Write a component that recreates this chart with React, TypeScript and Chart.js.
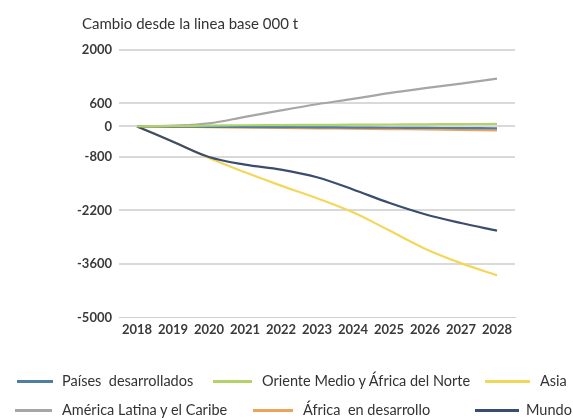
import React, { useEffect, useRef } from "react";
import { Chart, registerables } from "chart.js";

Chart.register(...registerables);

const TITLE = "Cambio desde la linea base 000 t";
const YEARS = ["2018", "2019", "2020", "2021", "2022", "2023", "2024", "2025", "2026", "2027", "2028"];
const Y_TICKS = [2000, 600, 0, -800, -2200, -3600, -5000];

const SERIES_NAMES = [
  "Países  desarrollados",
  "Oriente Medio y África del Norte",
  "Asia",
  "América Latina y el Caribe",
  "África  en desarrollo",
  "Mundo",
];
const PAISES = [0, -5, -10, -15, -20, -25, -30, -35, -40, -45, -50];
const ORIENTE = [0, 10, 20, 30, 35, 40, 45, 50, 55, 60, 65];
const ASIA = [0, -400, -830, -1200, -1550, -1880, -2250, -2720, -3200, -3580, -3900];
const AMERICA = [0, 20, 80, 250, 420, 580, 720, 870, 1000, 1120, 1250];
const AFRICA = [0, -10, -20, -30, -40, -50, -60, -70, -80, -90, -105];
const MUNDO = [0, -400, -800, -1000, -1130, -1330, -1650, -2000, -2300, -2530, -2730];

const SERIES_VALUES = [PAISES, ORIENTE, ASIA, AMERICA, AFRICA, MUNDO];
const COLORS = ["#4f7fa0", "#b4d26a", "#f3d75b", "#a6a6a6", "#eea25a", "#3a4d6e"];
const DRAW_ORDER = [3, 0, 2, 4, 5, 1];

// legend layout (styles only): [lineLeft, lineWidth, textLeft, top]
const LEGEND_LAYOUT = [
  [17, 36, 62, 381],
  [213, 39, 262, 381],
  [485, 45, 540, 381],
  [15, 37, 62, 410],
  [253, 40, 303, 410],
  [475, 44, 526, 410],
];

const FONT = "Lato, 'Open Sans', sans-serif";

export default function App() {
  const ref = useRef<HTMLCanvasElement | null>(null);

  useEffect(() => {
    if (!ref.current) return;
    const chart = new Chart(ref.current, {
      type: "line",
      data: {
        labels: YEARS,
        datasets: SERIES_NAMES.map((name, i) => ({
          label: name,
          data: SERIES_VALUES[i],
          borderColor: COLORS[i],
          backgroundColor: COLORS[i],
          borderWidth: 2.2,
          pointRadius: 0,
          tension: 0.35,
          fill: false,
          order: DRAW_ORDER[i],
        })),
      },
      options: {
        animation: false,
        responsive: false,
        layout: { padding: { left: 70, right: 58, top: 50, bottom: 76 } },
        plugins: {
          legend: { display: false },
          tooltip: { enabled: false },
          title: { display: false },
        },
        scales: {
          x: {
            type: "category",
            offset: true,
            grid: { display: false, drawTicks: false },
            border: { display: true, color: "#d0d0d0", width: 1, dash: [2, 2] },
            ticks: {
              color: "#3a3a3a",
              font: { family: FONT, size: 13, weight: "bold" },
              padding: 5,
              maxRotation: 0,
              autoSkip: false,
            },
          },
          y: {
            min: -5000,
            max: 2000,
            afterBuildTicks: (scale: any) => {
              scale.ticks = Y_TICKS.map((v) => ({ value: v }));
            },
            afterFit: (scale: any) => {
              scale.width = 49;
            },
            grid: {
              drawTicks: false,
              color: (ctx: any) => (ctx.tick && ctx.tick.value === -5000 ? "rgba(0,0,0,0)" : "#d9d9d9"),
              lineWidth: 2,
            },
            border: { display: false },
            ticks: {
              color: "#3a3a3a",
              font: { family: FONT, size: 13, weight: "bold" },
              padding: 7,
              callback: (v: any) => String(v),
            },
          },
        },
      },
    });
    return () => chart.destroy();
  }, []);

  return (
    <div style={{ position: "absolute", left: 0, top: 0, width: 573, height: 419, background: "#ffffff", overflow: "hidden" }}>
      <canvas ref={ref} width={573} height={419} style={{ display: "block" }} />
      <div
        style={{
          position: "absolute",
          left: 82,
          top: 13,
          height: 20,
          lineHeight: "20px",
          fontFamily: FONT,
          fontSize: 15,
          color: "#333333",
          whiteSpace: "pre",
        }}
      >
        {TITLE}
      </div>
      {SERIES_NAMES.map((name, i) => {
        const [lineLeft, lineWidth, textLeft, top] = LEGEND_LAYOUT[i];
        return (
          <React.Fragment key={name}>
            <div
              style={{
                position: "absolute",
                left: lineLeft,
                top: top - 1.5,
                width: lineWidth,
                height: 3,
                background: COLORS[i],
              }}
            />
            <div
              style={{
                position: "absolute",
                left: textLeft,
                top: top - 10,
                height: 20,
                lineHeight: "20px",
                fontFamily: FONT,
                fontSize: 14.5,
                color: "#333333",
                whiteSpace: "pre",
              }}
            >
              {name}
            </div>
          </React.Fragment>
        );
      })}
    </div>
  );
}
